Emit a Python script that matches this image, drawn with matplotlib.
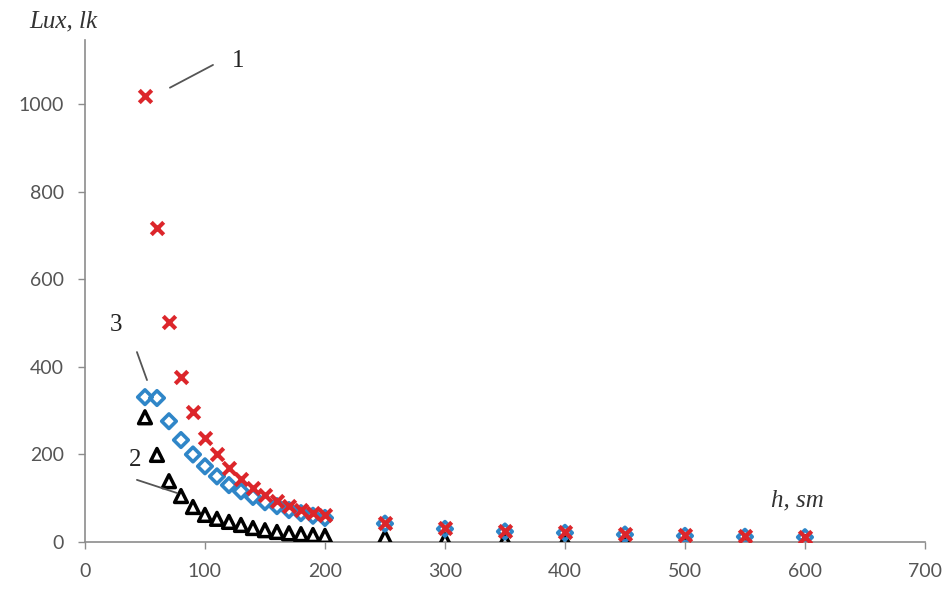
import numpy as np
import matplotlib
matplotlib.use('Agg')
import matplotlib.pyplot as plt

# h, sm
h = [50, 60, 70, 80, 90, 100, 110, 120, 130, 140, 150, 160, 170, 180, 190, 200,
     250, 300, 350, 400, 450, 500, 550, 600]

# кривая 1 (красные крестики)
lux_1 = [1020, 717, 502, 377, 297, 237, 200, 169, 144, 123, 107, 94, 82, 73, 66, 62,
         44, 32, 25, 22, 18, 15, 13, 12]
# кривая 3 (синие ромбы)
lux_3 = [331, 329, 276, 233, 200, 173, 150, 130, 116, 103, 91, 82, 73, 66, 60, 55,
         42, 30, 24, 21, 17, 14, 12, 11]
# кривая 2 (черные треугольники)
lux_2 = [285, 199, 139, 105, 80, 62, 53, 46, 39, 32, 27, 23, 20, 18, 16, 14,
         11, 4, 3, 2, 1, 1, 0, 0]

x_ticks = [0, 100, 200, 300, 400, 500, 600, 700]
y_ticks = [0, 200, 400, 600, 800, 1000]

fig = plt.figure(figsize=(9.42, 5.94), dpi=100)
ax = fig.add_axes([0.0902, 0.0875, 0.8917, 0.8452])

ax.scatter(h, lux_2, marker='^', s=85, facecolor='none', edgecolors='black', linewidths=2.5, zorder=3)
ax.scatter(h, lux_3, marker='D', s=55, facecolor='none', edgecolors='#2f86c8', linewidths=2.6, zorder=4)
ax.scatter(h, lux_1, marker='x', s=80, color='#dc262b', linewidths=3, zorder=5)

ax.set_xlim(0, 700)
ax.set_ylim(0, 1147)
ax.set_xticks(x_ticks)
ax.set_yticks(y_ticks)

grey = '#8c8c8c'
for side in ['top', 'right']:
    ax.spines[side].set_visible(False)
for side in ['left', 'bottom']:
    ax.spines[side].set_color(grey)
    ax.spines[side].set_linewidth(1.2)
ax.tick_params(axis='both', colors=grey, length=5, width=1)
for lab in ax.get_xticklabels() + ax.get_yticklabels():
    lab.set_family('Lato')
    lab.set_fontsize(14)
    lab.set_color('#555555')
ax.tick_params(axis='y', pad=10)
ax.tick_params(axis='x', pad=10)

serif = 'Liberation Serif'
# подписи осей
ax.text(-46, 1189, 'Lux, lk', fontsize=18, style='italic', family=serif,
        color='#333333', ha='left', va='center', clip_on=False)
ax.text(572, 96, 'h, sm', fontsize=18, style='italic', family=serif,
        color='#333333', ha='left', va='center')

# номера кривых и выноски
lead = dict(arrowstyle='-', color='#555555', lw=1.3, shrinkA=0, shrinkB=0)
ax.annotate('', xy=(70.8, 1038), xytext=(106.7, 1090), arrowprops=lead)
ax.annotate('', xy=(51.7, 370), xytext=(43.3, 434), arrowprops=lead)
ax.annotate('', xy=(76.7, 112), xytext=(43.3, 142), arrowprops=lead)
ax.text(127.5, 1099, '1', fontsize=18, family=serif, color='#222222', ha='center', va='center')
ax.text(25.8, 496, '3', fontsize=18, family=serif, color='#222222', ha='center', va='center')
ax.text(41.7, 187, '2', fontsize=18, family=serif, color='#222222', ha='center', va='center')

plt.savefig('out.png', dpi=100)
plt.close()
